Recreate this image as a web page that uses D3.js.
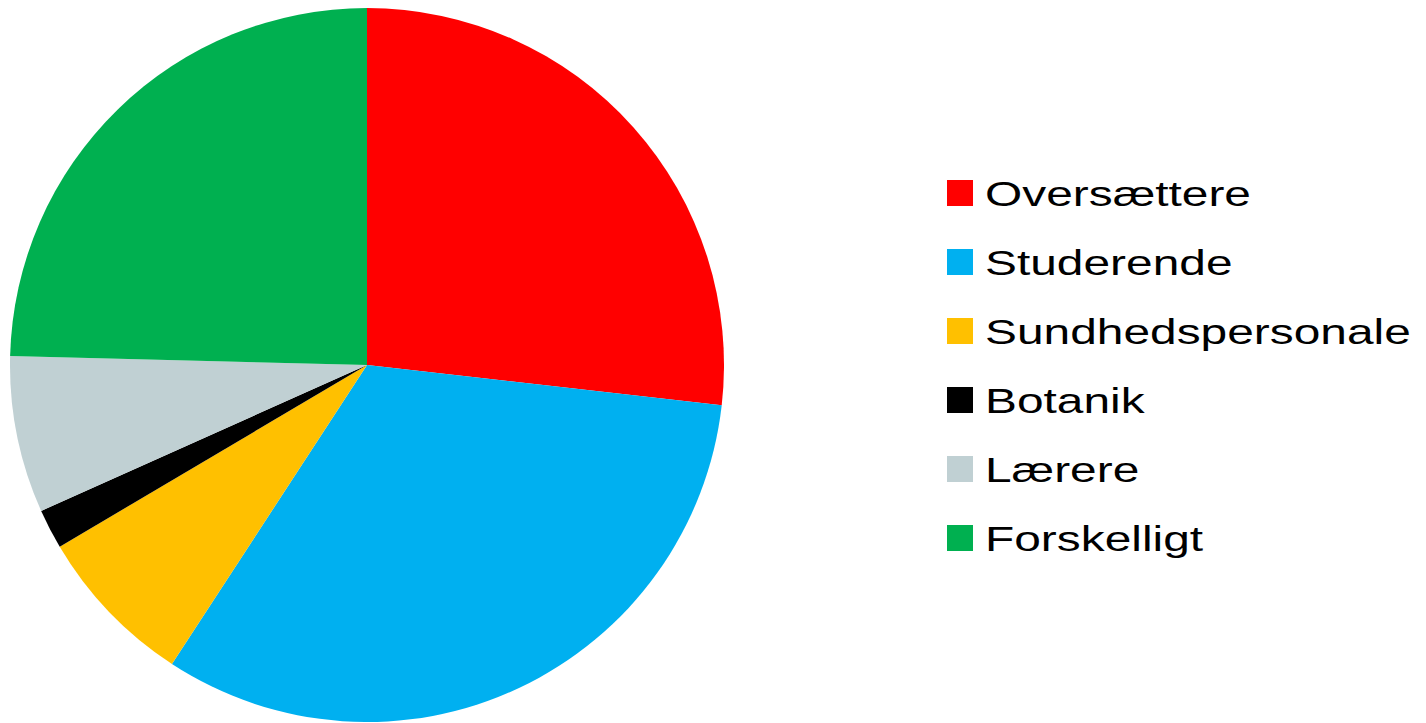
<!DOCTYPE html>
<meta charset="utf-8">
<style>
  body { margin: 0; background: white; }
  .legendText {
    font-family: "Liberation Sans", Arial, sans-serif;
    font-size: 36px;
    fill: black;
  }
</style>
<body>
<script src="https://cdn.jsdelivr.net/npm/d3@7"></script>
<script>

const width = 1426,
      height = 723

// data
const categories = ["Oversættere", "Studerende", "Sundhedspersonale", "Botanik", "Lærere", "Forskelligt"]
const values = [26.8, 32.4, 7.3, 1.8, 7.1, 24.6]
const colors = ["#FF0000", "#00B0F0", "#FFC000", "#000000", "#C0D0D3", "#00B050"]

const cx = 367,
      cy = 365,
      radius = 357

const svg = d3.select("body")
  .append("svg")
    .attr("width", width)
    .attr("height", height)

const color = d3.scaleOrdinal()
  .domain(categories)
  .range(colors)

const pie = d3.pie()
  .sort(null)
  .value(d => d.value)

const arc = d3.arc()
  .innerRadius(0)
  .outerRadius(radius)

const data = categories.map((c, i) => ({name: c, value: values[i]}))

const g = svg.append("g")
  .attr("transform", `translate(${cx}, ${cy})`)

g.selectAll(".slice")
  .data(pie(data))
  .enter().append("path")
    .attr("class", "slice")
    .attr("d", arc)
    .style("fill", d => color(d.data.name))

// legend
const legendX = 947,
      legendY = 193,
      rowH = 69,
      box = 26,
      stretch = 1.33   // the legend font in the original is drawn wide

const legend = svg.append("g")
  .attr("transform", `translate(${legendX}, ${legendY})`)

const row = legend.selectAll(".row")
  .data(categories)
  .enter().append("g")
    .attr("class", "row")
    .attr("transform", (d, i) => `translate(0, ${i * rowH})`)

row.append("rect")
  .attr("x", 0)
  .attr("y", -box/2)
  .attr("width", box)
  .attr("height", box)
  .style("fill", d => color(d))

row.append("text")
  .attr("class", "legendText")
  .attr("transform", `translate(38, 0) scale(${stretch}, 1)`)
  .attr("dy", "0.36em")
  .text(d => d)

</script>
</body>
</html>
